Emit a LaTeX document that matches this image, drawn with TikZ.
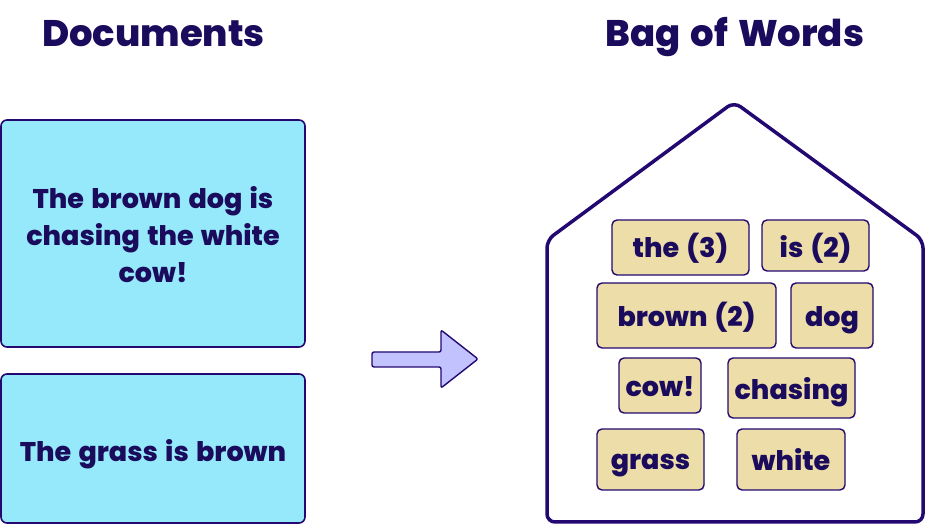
\documentclass[tikz,border=0pt]{standalone}
\usepackage{fontspec}
\setmainfont{Poppins}[BoldFont={Poppins ExtraBold}, WordSpace=1.4]
\begin{document}
\begin{tikzpicture}[x=1pt,y=-1pt,
  ink/.style={text=textnavy, anchor=base, inner sep=0pt},
  docbox/.style={draw=edgepurple, line width=1.6pt, fill=doccyan, rounded corners=6pt},
  wordbox/.style={draw=edgepurple, line width=1.4pt, fill=wordtan, rounded corners=5pt},
  wordtext/.style={ink, font=\bfseries\fontsize{27}{30}\selectfont},
  doctext/.style={ink, font=\bfseries\fontsize{27}{37}\selectfont},
  title/.style={ink, font=\bfseries\fontsize{37}{40}\selectfont}]
\definecolor{textnavy}{HTML}{1B0B5C}
\definecolor{edgepurple}{HTML}{220870}
\definecolor{doccyan}{HTML}{95E9FB}
\definecolor{wordtan}{HTML}{EDDDA8}
\definecolor{arrowfill}{HTML}{C2C2FF}
\useasboundingbox (0,0) rectangle (927,526);

% titles
\node[title] (tdocs) at (153.5,47) {Documents};
\node[title] (tbag) at (735,47) {Bag of Words};

% documents
\draw[docbox] (1,120) rectangle (305,347);
\node[doctext] (doc1a) at (153,209) {The brown dog is};
\node[doctext] (doc1b) at (153,246) {chasing the white};
\node[doctext] (doc1c) at (153,283) {cow!};
\draw[docbox] (1,374) rectangle (305,523);
\node[doctext] (doc2) at (153,462) {The grass is brown};

% transform arrow
\draw[draw=edgepurple, line width=1.4pt, fill=arrowfill, rounded corners=2pt]
  (372,352) -- (441,352) -- (441,330) -- (478,359) -- (441,388) -- (441,367)
  -- (372,367) -- cycle;

% the bag
\draw[draw=edgepurple, line width=3.5pt, rounded corners=8pt]
  (734,102) -- (923,240) -- (923,522) -- (547,522) -- (547,240) -- cycle;

% word counts
\draw[wordbox] (612,220) rectangle (749,275);
\node[wordtext] (wthe) at (680.5,258) {the (3)};
\draw[wordbox] (762,220) rectangle (869,271);
\node[wordtext] (wis) at (815.5,258) {is (2)};
\draw[wordbox] (597,283) rectangle (776,348);
\node[wordtext] (wbrown) at (686.5,327) {brown (2)};
\draw[wordbox] (791,283) rectangle (873,348);
\node[wordtext] (wdog) at (832,327) {dog};
\draw[wordbox] (619,358) rectangle (701,413);
\node[wordtext] (wcow) at (660,397) {cow!};
\draw[wordbox] (728,358) rectangle (855,418);
\node[wordtext] (wchasing) at (791.5,400) {chasing};
\draw[wordbox] (597,429) rectangle (704,490);
\node[wordtext] (wgrass) at (650.5,470) {grass};
\draw[wordbox] (737,429) rectangle (845,490);
\node[wordtext] (wwhite) at (791,471) {white};
\end{tikzpicture}
\end{document}
